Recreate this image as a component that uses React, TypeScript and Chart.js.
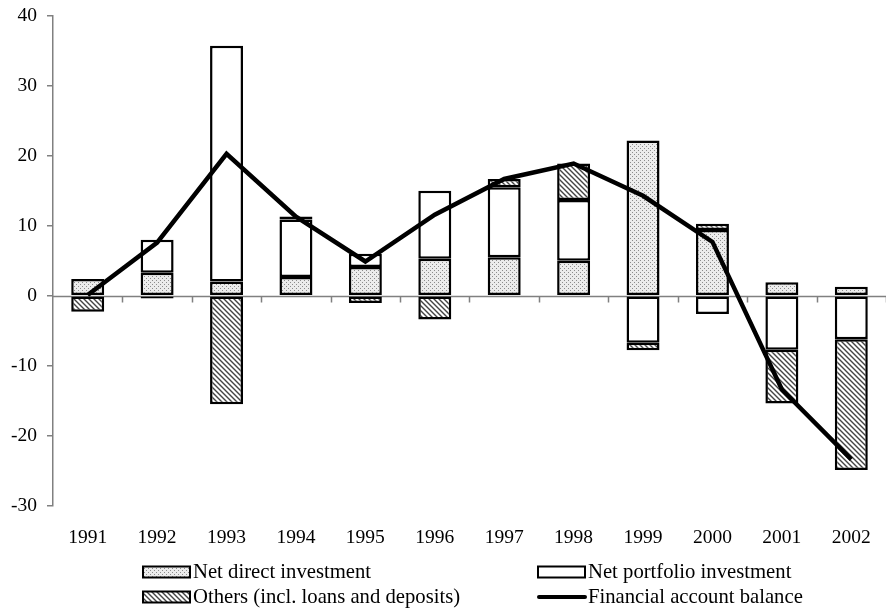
import React, { useEffect, useRef } from 'react';
import { Chart, registerables } from 'chart.js';

Chart.register(...registerables);

// ---- Data ----
const years = ['1991', '1992', '1993', '1994', '1995', '1996', '1997', '1998', '1999', '2000', '2001', '2002'];
const directInvestment = [2.4, 3.3, 2.05, 2.7, 4.1, 5.3, 5.5, 5.0, 22.2, 9.4, 1.95, 1.3];
const portfolioInvestment = [0, 4.7, 33.7, 8.2, 1.9, 9.7, 10.0, 8.7, -6.7, -2.6, -7.7, -6.2];
const othersLoansDeposits = [-2.3, -0.4, -15.5, 0.45, -1.05, -3.4, 1.2, 5.2, -1.1, 0.9, -7.7, -18.7];
const financialAccountBalance = [0.1, 7.6, 20.3, 11.3, 4.9, 11.6, 16.7, 18.9, 14.3, 7.7, -13.4, -23.4];
const seriesLabels = [
  'Net direct investment',
  'Net portfolio investment',
  'Others (incl. loans and deposits)',
  'Financial account balance',
];
const yMin = -30;
const yMax = 40;
const yStep = 10;

const FONT = '"Liberation Serif", "Times New Roman", serif';
const AXIS_GRAY = '#808080';

function makeDotPattern(ctx: CanvasRenderingContext2D): CanvasPattern | string {
  const c = document.createElement('canvas');
  c.width = 4;
  c.height = 4;
  const p = c.getContext('2d');
  if (!p) return '#ddd';
  p.fillStyle = '#ececec';
  p.fillRect(0, 0, 4, 4);
  p.fillStyle = '#8c8c8c';
  p.fillRect(0, 0, 1, 1);
  p.fillRect(2, 2, 1, 1);
  return ctx.createPattern(c, 'repeat') || '#ddd';
}

function makeHatchPattern(ctx: CanvasRenderingContext2D): CanvasPattern | string {
  const s = 5;
  const c = document.createElement('canvas');
  c.width = s;
  c.height = s;
  const p = c.getContext('2d');
  if (!p) return '#999';
  p.fillStyle = '#ffffff';
  p.fillRect(0, 0, s, s);
  p.strokeStyle = '#444444';
  p.lineWidth = 1.4;
  p.beginPath();
  p.moveTo(-1, -1);
  p.lineTo(s + 1, s + 1);
  p.moveTo(-1, s - 1);
  p.lineTo(1, s + 1);
  p.moveTo(s - 1, -1);
  p.lineTo(s + 1, 1);
  p.stroke();
  return ctx.createPattern(c, 'repeat') || '#999';
}

export default function App() {
  const canvasRef = useRef<HTMLCanvasElement | null>(null);

  useEffect(() => {
    document.body.style.margin = '0';
    const canvas = canvasRef.current;
    if (!canvas) return;
    const ctx = canvas.getContext('2d');
    if (!ctx) return;

    const dots = makeDotPattern(ctx);
    const hatch = makeHatchPattern(ctx);

    const zeroLinePlugin = {
      id: 'zeroLine',
      beforeDatasetsDraw(chart: any) {
        const { ctx: c, chartArea } = chart;
        const yScale = chart.scales.y;
        const y0 = Math.round(yScale.getPixelForValue(0)) + 0.5;
        const n = years.length;
        const w = (chartArea.right - chartArea.left) / n;
        c.save();
        c.strokeStyle = AXIS_GRAY;
        c.lineWidth = 1.5;
        c.beginPath();
        c.moveTo(chartArea.left, y0);
        c.lineTo(chartArea.right, y0);
        for (let i = 1; i <= n; i++) {
          const x = Math.round(chartArea.left + i * w) + 0.5;
          c.moveTo(x, y0);
          c.lineTo(x, y0 + 6);
        }
        c.stroke();
        c.restore();
      },
    };

    const legendPlugin = {
      id: 'customLegend',
      afterDraw(chart: any) {
        const c = chart.ctx as CanvasRenderingContext2D;
        const items = [
          { x: 143, y: 572, kind: 'dots', label: seriesLabels[0] },
          { x: 538, y: 572, kind: 'empty', label: seriesLabels[1] },
          { x: 143, y: 597, kind: 'hatch', label: seriesLabels[2] },
          { x: 538, y: 597, kind: 'line', label: seriesLabels[3] },
        ];
        c.save();
        c.font = `20.7px ${FONT}`;
        c.textBaseline = 'middle';
        c.textAlign = 'left';
        for (const it of items) {
          const bw = 47;
          const bh = 11;
          if (it.kind === 'line') {
            c.strokeStyle = '#000';
            c.lineWidth = 4;
            c.lineCap = 'round';
            c.beginPath();
            c.moveTo(it.x + 1, it.y);
            c.lineTo(it.x + bw, it.y);
            c.stroke();
          } else {
            c.fillStyle = it.kind === 'dots' ? (dots as any) : it.kind === 'hatch' ? (hatch as any) : '#fff';
            c.fillRect(it.x, it.y - bh / 2, bw, bh);
            c.strokeStyle = '#000';
            c.lineWidth = 2;
            c.strokeRect(it.x, it.y - bh / 2, bw, bh);
          }
          c.fillStyle = '#000';
          c.fillText(it.label, it.x + bw + 3, it.y + 1);
        }
        c.restore();
      },
    };

    const barCommon = {
      type: 'bar' as const,
      borderColor: '#000000',
      borderWidth: 2.5,
      borderSkipped: false,
      barPercentage: 0.95,
      categoryPercentage: 0.5,
      stack: 'flows',
      order: 1,
    };

    const chart = new Chart(ctx, {
      type: 'bar',
      data: {
        labels: years,
        datasets: [
          { ...barCommon, label: seriesLabels[0], data: directInvestment, backgroundColor: dots as any },
          { ...barCommon, label: seriesLabels[1], data: portfolioInvestment, backgroundColor: '#ffffff' },
          { ...barCommon, label: seriesLabels[2], data: othersLoansDeposits, backgroundColor: hatch as any },
          {
            type: 'line' as const,
            label: seriesLabels[3],
            data: financialAccountBalance,
            borderColor: '#000000',
            borderWidth: 4.5,
            pointRadius: 0,
            tension: 0,
            fill: false,
            stack: 'balance',
            order: 0,
          } as any,
        ],
      },
      options: {
        responsive: false,
        animation: false,
        layout: { padding: { top: 16, left: 1, right: 0, bottom: 50 } },
        plugins: {
          legend: { display: false },
          tooltip: { enabled: false },
          title: { display: false },
        },
        scales: {
          x: {
            stacked: true,
            grid: { display: false },
            border: { display: false },
            afterFit(scale: any) {
              scale.paddingLeft = 0;
              scale.paddingRight = 0;
            },
            ticks: {
              color: '#000',
              padding: 13,
              maxRotation: 0,
              font: { family: FONT, size: 19.5 },
            },
          },
          y: {
            stacked: true,
            min: yMin,
            max: yMax,
            afterFit(scale: any) {
              scale.paddingTop = 0;
              scale.paddingBottom = 0;
            },
            ticks: {
              stepSize: yStep,
              color: '#000',
              padding: 10,
              font: { family: FONT, size: 19.5 },
            },
            grid: {
              display: true,
              drawOnChartArea: false,
              drawTicks: true,
              tickLength: 6,
              color: AXIS_GRAY,
              lineWidth: 1.5,
            },
            border: { display: true, color: AXIS_GRAY, width: 1.5 },
          },
        },
      },
      plugins: [zeroLinePlugin, legendPlugin],
    });

    return () => {
      chart.destroy();
    };
  }, []);

  return (
    <div style={{ width: 886, height: 613, background: '#fff' }}>
      <canvas ref={canvasRef} width={886} height={613} style={{ display: 'block' }} />
    </div>
  );
}
